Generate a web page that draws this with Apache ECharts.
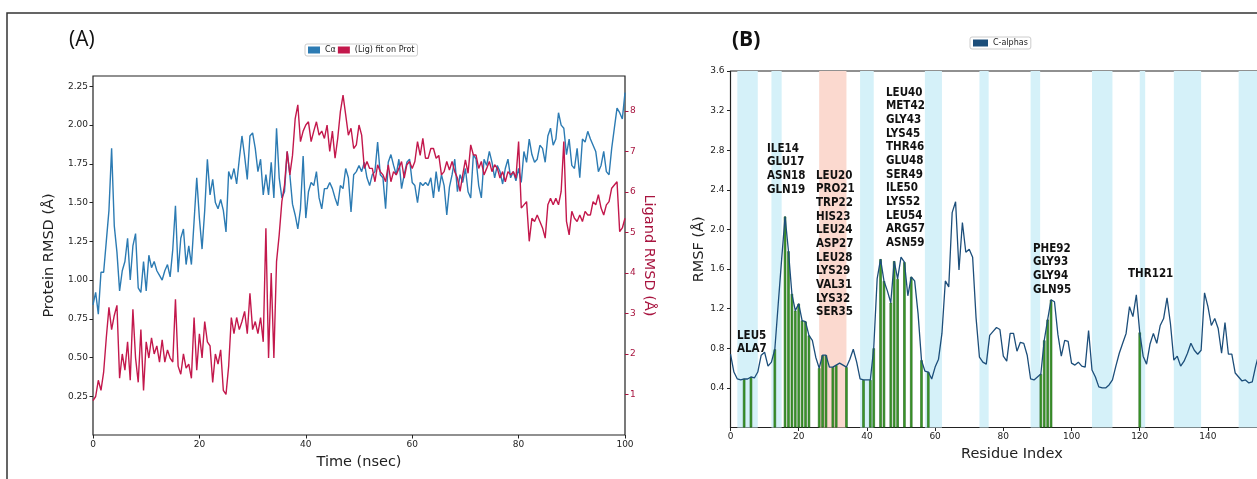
<!DOCTYPE html>
<html><head><meta charset="utf-8">
<script src="https://cdn.jsdelivr.net/npm/echarts@6/dist/echarts.min.js"></script>
<style>html,body{margin:0;padding:0;background:#fff;overflow:hidden;width:1257px;height:479px}#c{width:1400px;height:479px}</style>
</head><body><div id="c"></div><script>
// ---------- data ----------
const timeStepNs = 0.5;
const proteinRmsd = [
0.84,0.92,0.78,1.05,1.05,1.25,1.45,1.85,1.35,1.18,
0.93,1.06,1.12,1.27,1.00,1.22,1.30,0.95,0.92,1.12,
0.93,1.16,1.08,1.12,1.06,1.03,1.00,1.06,1.10,1.02,
1.20,1.48,1.05,1.27,1.33,1.10,1.22,1.10,1.38,1.66,
1.40,1.20,1.45,1.78,1.55,1.65,1.50,1.46,1.52,1.45,
1.31,1.70,1.65,1.72,1.62,1.78,1.93,1.80,1.65,1.93,
1.95,1.85,1.70,1.78,1.55,1.68,1.55,
1.76,1.53,1.98,1.66,1.53,1.57,1.83,1.68,1.49,1.42,
1.33,1.46,1.80,1.40,1.57,1.63,1.61,1.70,1.53,1.46,
1.59,1.59,1.63,1.59,1.53,1.48,1.61,1.59,1.72,1.66,
1.44,1.68,1.70,1.74,1.70,1.76,1.66,1.61,1.68,1.70,
1.89,1.68,1.66,1.46,1.76,1.81,1.74,1.68,1.78,1.59,
1.68,1.76,1.78,1.63,1.61,1.50,1.63,1.61,1.63,1.61,
1.66,1.53,1.70,1.57,1.68,1.61,
1.42,1.60,1.68,1.78,1.57,1.68,1.63,1.72,1.57,1.53,
1.81,1.78,1.61,1.53,1.78,1.74,1.83,1.76,1.66,1.74,
1.70,1.62,1.72,1.78,1.66,1.70,1.64,1.72,1.63,1.83,
1.76,1.91,1.81,1.76,1.78,1.87,1.85,1.76,1.93,1.98,
1.87,1.91,2.08,2.00,1.98,1.81,1.91,1.74,1.72,1.85,
1.66,1.91,1.89,1.96,1.91,1.87,1.83,1.70,1.74,1.83,
1.70,1.68,1.85,1.98,2.11,2.08,2.04,2.21];
const ligandRmsd = [
0.85,0.95,1.35,1.10,1.55,2.40,3.15,2.60,2.95,3.20,
1.40,2.00,1.60,2.30,1.35,3.10,1.90,1.30,2.60,1.10,
2.30,1.90,2.40,2.00,2.20,1.80,2.35,1.80,2.10,1.90,
1.80,3.35,1.70,1.50,2.00,1.65,1.75,1.40,2.90,1.60,
2.50,1.90,2.80,2.30,2.20,1.30,2.00,1.75,2.10,1.10,
1.00,1.70,2.90,2.50,2.90,2.60,2.80,3.05,2.50,3.50,
2.60,2.80,2.50,2.90,2.30,5.10,1.90,
4.00,1.90,4.28,4.94,5.76,6.17,7.00,6.42,6.90,7.80,
8.15,7.24,7.50,7.65,7.73,7.24,7.50,7.73,7.40,7.50,
7.32,7.65,7.00,7.50,6.83,7.32,7.98,8.39,7.90,7.40,
7.57,7.07,7.16,7.65,7.40,6.58,6.75,6.58,6.58,6.25,
6.67,6.50,6.42,6.25,6.67,6.25,6.50,6.42,6.58,6.75,
6.34,6.67,6.75,6.58,6.75,7.24,6.90,7.32,6.83,6.83,
7.07,7.07,6.83,6.90,6.42,6.50,
6.75,6.54,6.75,6.50,6.34,6.01,6.42,6.79,6.46,7.16,
6.91,6.91,6.58,6.75,6.42,6.58,6.75,6.50,6.67,6.58,
6.34,6.50,6.25,6.50,6.42,6.50,6.34,7.24,5.60,5.68,
5.76,4.78,5.35,5.27,5.43,5.27,5.11,4.86,5.68,5.84,
5.68,5.84,5.68,6.01,7.24,5.27,4.94,5.52,5.35,5.27,
5.43,5.27,5.52,5.43,5.43,5.76,5.68,5.93,5.60,5.43,
5.68,5.76,6.09,6.17,6.25,5.02,5.11,5.35];
const rmsfCalpha = [
0.74,0.56,0.49,0.48,0.49,0.49,0.51,0.50,0.56,0.73,
0.76,0.62,0.66,0.79,1.25,1.70,2.13,1.78,1.35,1.18,
1.25,1.08,1.07,0.93,0.88,0.71,0.60,0.73,0.73,0.61,
0.61,0.63,0.65,0.63,0.61,0.69,0.79,0.66,0.49,0.48,
0.48,0.48,0.80,1.50,1.70,1.48,1.38,1.26,1.68,1.50,
1.72,1.67,1.33,1.52,1.48,1.15,0.68,0.57,0.56,0.49,
0.61,0.69,0.95,1.48,1.42,2.17,2.28,1.59,2.07,1.77,
1.80,1.72,1.11,0.71,0.66,0.64,0.93,0.97,1.01,0.99,
0.72,0.67,0.95,0.95,0.77,0.86,0.85,0.73,0.49,0.48,
0.51,0.54,0.88,1.09,1.29,1.27,0.94,0.72,0.88,0.87,
0.65,0.63,0.66,0.62,0.61,0.98,0.58,0.51,0.41,0.40,
0.40,0.43,0.48,0.62,0.75,0.85,0.95,1.22,1.12,1.34,
0.96,0.72,0.64,0.84,0.95,0.85,1.03,1.10,1.31,1.05,
0.68,0.72,0.62,0.67,0.75,0.85,0.78,0.74,0.78,1.36,
1.22,1.03,1.10,1.00,0.75,1.06,0.74,0.74,0.55,0.51,
0.47,0.48,0.45,0.46,0.62,0.75];
const contactGroups = [
  ['LEU5','ALA7'],
  ['ILE14','GLU17','ASN18','GLN19'],
  ['LEU20','PRO21','TRP22','HIS23','LEU24','ASP27','LEU28','LYS29','VAL31','LYS32','SER35'],
  ['LEU40','MET42','GLY43','LYS45','THR46','GLU48','SER49','ILE50','LYS52','LEU54','ARG57','ASN59'],
  ['PHE92','GLY93','GLY94','GLN95'],
  ['THR121']
];
const strandBands = [[2,8],[12,15],[38,42],[57,62],[73,75.7],[88,90.8],[106,112],[120,121.6],[130,138],[149,170]];
const helixBands = [[26,34]];
const timeTicks = [0,20,40,60,80,100];
const proteinTicks = [0.25,0.5,0.75,1.0,1.25,1.5,1.75,2.0,2.25];
const ligandTicks = [1,2,3,4,5,6,7,8];
const rmsfTicks = [0.4,0.8,1.2,1.6,2.0,2.4,2.8,3.2,3.6];
const residueTicks = [0,20,40,60,80,100,120,140,160];

// ---------- derived ----------
const protSeries = proteinRmsd.map((v,i)=>[i*timeStepNs, v]);
const ligSeries = ligandRmsd.map((v,i)=>[i*timeStepNs, v]);
const rmsfSeries = rmsfCalpha.map((v,i)=>[i, v]);
const contactIdx = contactGroups.flat().map(n => parseInt(n.replace(/\D/g,''),10) - 1);
const contactSeries = contactIdx.map(i => [i, rmsfCalpha[i]]);

const BLUE = '#2c7bb3', RED = '#c3184c', CRIM = '#a8143f', NAVY = '#1c4e7a', INK = '#222';
const tickFont = {fontFamily:'DejaVu Sans', fontSize:9, color:INK};
const nameFont = {fontFamily:'DejaVu Sans', fontSize:14.5, color:INK};

const chart = echarts.init(document.getElementById('c'), null, {renderer:'canvas'});

const annPos = [[737,329],[767,142],[816,169],[886,86],[1033,242],[1128,267]];
const graphics = [
  {type:'rect', shape:{x:7,y:13,width:2000,height:1000}, style:{fill:'none', stroke:'#333', lineWidth:1.5}, silent:true},
  {type:'text', left:69, top:30, style:{text:'(A)', fontFamily:'Open Sans', fontSize:21, fill:'#111'}},
  {type:'text', left:732, top:30, style:{text:'(B)', fontFamily:'Open Sans', fontWeight:'bold', fontSize:21, fill:'#111'}}
];
contactGroups.forEach((g, k) => {
  graphics.push({type:'text', left:annPos[k][0], top:annPos[k][1], z:20,
    style:{text:g.join('\n'), fontFamily:"'Liberation Sans Narrow','DejaVu Sans Condensed',sans-serif",
      fontWeight:'bold', fontSize:11.5, lineHeight:13.65, fill:'#111'}});
});

const option = {
  animation:false,
  backgroundColor:'#fff',
  grid:[
    {left:93, top:76, width:532, height:359, show:true, borderColor:INK, borderWidth:1.2, backgroundColor:'transparent'},
    {left:730.5, top:71, width:562.7, height:356.5, show:true, borderColor:INK, borderWidth:1.2, backgroundColor:'transparent'}
  ],
  legend:[
    {left:305, top:44, data:['Cα','(Lig) fit on Prot'], icon:'rect', itemWidth:12, itemHeight:7, itemGap:2,
     textStyle:{fontFamily:'DejaVu Sans', fontSize:8, color:INK}, borderColor:'#ccc', borderWidth:1, borderRadius:2,
     padding:[2,3], selectedMode:false},
    {left:970, top:37, data:['C-alphas'], icon:'rect', itemWidth:15, itemHeight:7,
     textStyle:{fontFamily:'DejaVu Sans', fontSize:8, color:INK}, borderColor:'#ccc', borderWidth:1, borderRadius:2,
     padding:[2,3], selectedMode:false}
  ],
  xAxis:[
    {type:'value', gridIndex:0, min:0, max:100, splitLine:{show:false},
     axisLine:{show:false}, axisTick:{show:true, length:3.5, lineStyle:{color:INK}, customValues:timeTicks},
     axisLabel:{...tickFont, margin:5, customValues:timeTicks},
     name:'Time (nsec)', nameLocation:'middle', nameGap:20, nameTextStyle:nameFont},
    {type:'value', gridIndex:1, min:0, max:165, splitLine:{show:false},
     axisLine:{show:false}, axisTick:{show:true, length:3.5, lineStyle:{color:INK}, customValues:residueTicks},
     axisLabel:{...tickFont, margin:5, customValues:residueTicks},
     name:'Residue Index', nameLocation:'middle', nameGap:17, nameTextStyle:nameFont}
  ],
  yAxis:[
    {type:'value', gridIndex:0, min:0, max:2.317, splitLine:{show:false}, axisLine:{show:false},
     axisTick:{show:true, length:3.5, lineStyle:{color:INK}, customValues:proteinTicks},
     axisLabel:{...tickFont, margin:5, customValues:proteinTicks, formatter:v=>v.toFixed(2)},
     name:'Protein RMSD (Å)', nameLocation:'middle', nameGap:36, nameRotate:90, nameTextStyle:nameFont},
    {type:'value', gridIndex:0, position:'right', min:0, max:8.86, splitLine:{show:false}, axisLine:{show:false},
     axisTick:{show:true, length:3.5, lineStyle:{color:CRIM}, customValues:ligandTicks},
     axisLabel:{...tickFont, color:CRIM, margin:5, customValues:ligandTicks},
     name:'Ligand RMSD (Å)', nameLocation:'middle', nameGap:16, nameRotate:-90, nameTextStyle:{...nameFont, color:CRIM}},
    {type:'value', gridIndex:1, min:0, max:3.6, splitLine:{show:false}, axisLine:{show:false},
     axisTick:{show:true, length:3.5, lineStyle:{color:INK}, customValues:rmsfTicks},
     axisLabel:{...tickFont, margin:6, customValues:rmsfTicks, formatter:v=>v.toFixed(1)},
     name:'RMSF (Å)', nameLocation:'middle', nameGap:22, nameRotate:90, nameTextStyle:nameFont}
  ],
  series:[
    {name:'Cα', type:'line', xAxisIndex:0, yAxisIndex:0, data:protSeries, showSymbol:false, symbol:'none',
     lineStyle:{color:BLUE, width:1.4}, itemStyle:{color:BLUE}, z:3},
    {name:'(Lig) fit on Prot', type:'line', xAxisIndex:0, yAxisIndex:1, data:ligSeries, showSymbol:false, symbol:'none',
     lineStyle:{color:RED, width:1.4}, itemStyle:{color:RED}, z:4},
    {name:'bands', type:'line', xAxisIndex:1, yAxisIndex:2, data:[], z:-1, silent:true,
     markArea:{silent:true, itemStyle:{color:'#d5f1f9'},
       data:strandBands.map(b=>[{xAxis:b[0]},{xAxis:b[1]}]).concat(
            helixBands.map(b=>[{xAxis:b[0], itemStyle:{color:'#fbd9cf'}},{xAxis:b[1]}]))}},
    {name:'contacts', type:'bar', xAxisIndex:1, yAxisIndex:2, data:contactSeries, barWidth:2.4, z:1, silent:true,
     itemStyle:{color:'#3f9e2b', borderColor:'#185c10', borderWidth:0.6}},
    {name:'C-alphas', type:'line', xAxisIndex:1, yAxisIndex:2, data:rmsfSeries, showSymbol:false, symbol:'none',
     lineStyle:{color:NAVY, width:1.3}, itemStyle:{color:NAVY}, z:3}
  ],
  graphic:graphics
};
chart.setOption(option);
</script></body></html>
